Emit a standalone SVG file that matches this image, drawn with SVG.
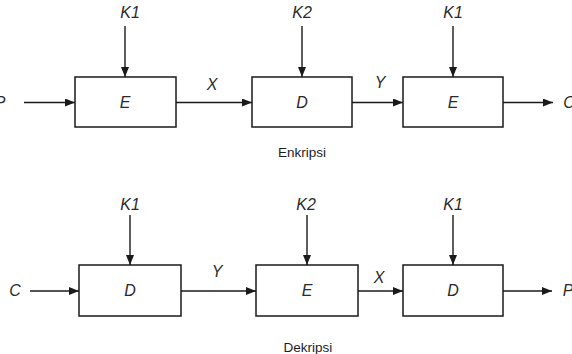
<svg xmlns="http://www.w3.org/2000/svg" width="572" height="354" viewBox="0 0 572 354">
  <defs>
    <marker id="arrow" viewBox="0 0 10 8" refX="10" refY="4" markerWidth="10" markerHeight="8" markerUnits="userSpaceOnUse" orient="auto">
      <path d="M0,0 L10,4 L0,8 Z" fill="#1a1a1a"/>
    </marker>
    <style>
      .box { fill: #ffffff; stroke: #1a1a1a; stroke-width: 1.5; }
      .wire { stroke: #1a1a1a; stroke-width: 1.4; fill: none; marker-end: url(#arrow); }
      .lbl { font-family: "Liberation Sans", Arial, sans-serif; font-style: italic; font-size: 16px; fill: #2a2a2a; text-anchor: middle; }
      .cap { font-family: "Liberation Sans", Arial, sans-serif; font-size: 13.5px; fill: #1e1e1e; text-anchor: middle; }
    </style>
  </defs>
  <rect width="572" height="354" fill="#ffffff"/>

  <!-- Encryption chain: E(K1) -> D(K2) -> E(K1) -->
  <g id="enc-e1"><rect class="box" x="75" y="77" width="101" height="50"/><text class="lbl" x="125" y="108">E</text></g>
  <g id="enc-d2"><rect class="box" x="252" y="77" width="100" height="50"/><text class="lbl" x="302" y="108">D</text></g>
  <g id="enc-e3"><rect class="box" x="403" y="77" width="100" height="50"/><text class="lbl" x="453" y="108">E</text></g>

  <!-- Decryption chain: D(K1) -> E(K2) -> D(K1) -->
  <g id="dec-d1"><rect class="box" x="79" y="265" width="102" height="51"/><text class="lbl" x="130" y="296">D</text></g>
  <g id="dec-e2"><rect class="box" x="256" y="265" width="102" height="51"/><text class="lbl" x="307" y="296">E</text></g>
  <g id="dec-d3"><rect class="box" x="403" y="265" width="100" height="51"/><text class="lbl" x="453" y="296">D</text></g>

  <g id="connectors">
    <!-- top row -->
    <line class="wire" x1="125" y1="26" x2="125" y2="77"/>
    <line class="wire" x1="302" y1="26" x2="302" y2="77"/>
    <line class="wire" x1="453" y1="26" x2="453" y2="77"/>
    <line class="wire" x1="24" y1="102.5" x2="75" y2="102.5"/>
    <line class="wire" x1="176" y1="102.5" x2="252" y2="102.5"/>
    <line class="wire" x1="352" y1="102.5" x2="403" y2="102.5"/>
    <line class="wire" x1="503" y1="102.5" x2="553" y2="102.5"/>
    <!-- bottom row -->
    <line class="wire" x1="130" y1="215" x2="130" y2="265"/>
    <line class="wire" x1="307" y1="215" x2="307" y2="265"/>
    <line class="wire" x1="453" y1="215" x2="453" y2="265"/>
    <line class="wire" x1="30" y1="291" x2="79" y2="291"/>
    <line class="wire" x1="181" y1="291" x2="256" y2="291"/>
    <line class="wire" x1="358" y1="291" x2="403" y2="291"/>
    <line class="wire" x1="503" y1="291" x2="552" y2="291"/>
  </g>

  <g id="labels">
    <text class="lbl" x="130" y="18">K1</text>
    <text class="lbl" x="302" y="18">K2</text>
    <text class="lbl" x="453" y="18">K1</text>
    <text class="lbl" x="0" y="108">P</text>
    <text class="lbl" x="212" y="90">X</text>
    <text class="lbl" x="380" y="88">Y</text>
    <text class="lbl" x="569" y="108">C</text>
    <text class="cap" x="302" y="157">Enkripsi</text>

    <text class="lbl" x="130" y="210">K1</text>
    <text class="lbl" x="306" y="210">K2</text>
    <text class="lbl" x="453" y="210">K1</text>
    <text class="lbl" x="15" y="296">C</text>
    <text class="lbl" x="217" y="277">Y</text>
    <text class="lbl" x="379" y="283">X</text>
    <text class="lbl" x="568" y="296">P</text>
    <text class="cap" x="308" y="352">Dekripsi</text>
  </g>
</svg>
